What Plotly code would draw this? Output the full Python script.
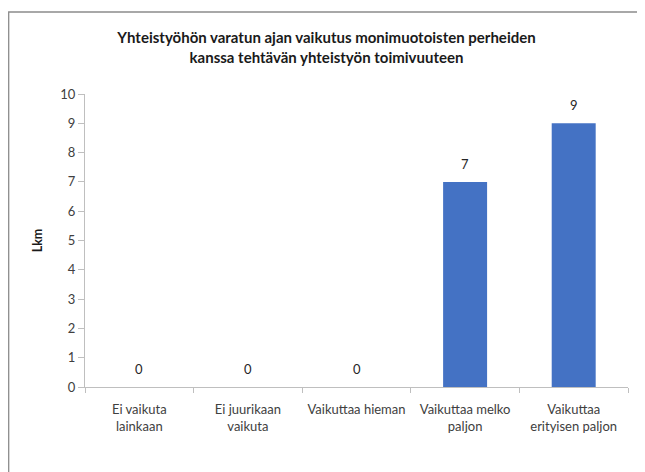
import plotly.graph_objects as go

# Kategoriat ja arvot
categories = [
    "Ei vaikuta<br>lainkaan",
    "Ei juurikaan<br>vaikuta",
    "Vaikuttaa hieman",
    "Vaikuttaa melko<br>paljon",
    "Vaikuttaa<br>erityisen paljon",
]
counts = [0, 0, 0, 7, 9]
y_ticks = list(range(0, 11))

title_text = (
    "<b>Yhteistyöhön varatun ajan vaikutus monimuotoisten perheiden<br>"
    "kanssa tehtävän yhteistyön toimivuuteen</b>"
)

# Sivulla on 8 px marginaali, joten kuva on 8 px pienempi
W, H = 637, 464
L, R, T, B = 77, 17, 86, 85
plot_w, plot_h = W - L - R, H - T - B

fig = go.Figure()

fig.add_trace(
    go.Bar(
        x=categories,
        y=counts,
        marker=dict(color="#4472C4", line=dict(width=0)),
        cliponaxis=False,
    )
)

# Arvotunnisteet pylväiden yläpuolelle
for cat, val in zip(categories, counts):
    fig.add_annotation(
        x=cat, y=val, text=str(val), showarrow=False,
        yanchor="bottom", yshift=8,
        font=dict(size=13, color="#262626"),
    )

# Kehys kaavion ympärillä
fig.add_shape(
    type="rect", xref="paper", yref="paper",
    x0=(0.7 - L) / plot_w, x1=1.2, y0=-0.5, y1=(plot_h + T - 4) / plot_h,
    line=dict(color="#8c8c8c", width=1.3), fillcolor="rgba(0,0,0,0)",
    layer="below",
)

fig.update_layout(
    width=W,
    height=H,
    margin=dict(l=L, r=R, t=T, b=B),
    paper_bgcolor="white",
    plot_bgcolor="white",
    font=dict(family="Lato, 'Open Sans', sans-serif", size=12, color="#404040"),
    title=dict(
        text=title_text,
        x=0.5, xanchor="center",
        y=1 - 35 / H, yanchor="middle",
        font=dict(size=15, color="#1a1a1a"),
    ),
    bargap=0.595,
    showlegend=False,
    xaxis=dict(
        showline=True, linecolor="#bfbfbf", linewidth=1,
        ticks="outside", tickson="boundaries", ticklen=5, tickcolor="#bfbfbf",
        tickfont=dict(size=13, color="#404040"),
        ticklabelstandoff=10,
        showgrid=False,
    ),
    yaxis=dict(
        range=[0, 10],
        tickvals=y_ticks,
        showline=True, linecolor="#bfbfbf", linewidth=1,
        ticks="outside", ticklen=6, tickcolor="#bfbfbf",
        tickfont=dict(size=13, color="#404040"),
        showgrid=False, zeroline=False,
        title=dict(text="<b>Lkm</b>", font=dict(size=12.5, color="#1a1a1a"), standoff=14),
    ),
)

fig.write_html("out.html")
